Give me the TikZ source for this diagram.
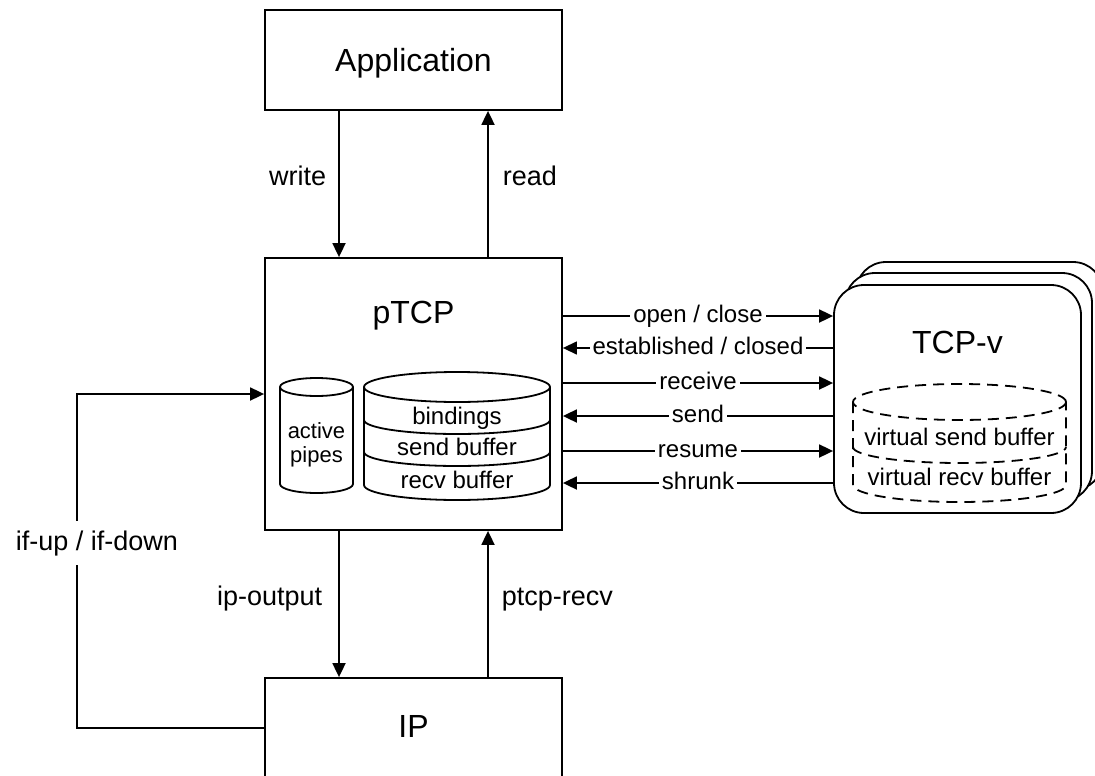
\documentclass[tikz,border=0pt]{standalone}
\usepackage{fontspec}
\setmainfont{Liberation Sans}
\usetikzlibrary{arrows.meta}

\begin{document}
\begin{tikzpicture}[x=1pt,y=1pt,line width=1.8pt,
  tip/.tip={Triangle[length=14pt,width=13pt]},
  fwd/.style={-tip},
  back/.style={tip-},
  block/.style={draw,rectangle,inner sep=0pt},
  vbox/.style={draw,fill=white,rectangle,rounded corners=30pt,inner sep=0pt,
               minimum width=247pt,minimum height=228pt},
  title/.style={inner sep=0pt,anchor=base,font=\fontsize{32}{38}\selectfont},
  flow/.style={inner sep=0pt,font=\fontsize{27}{32}\selectfont},
  msg/.style={fill=white,inner xsep=3pt,inner ysep=1pt,anchor=base,yshift=-6.5pt,
              font=\fontsize{24}{29}\selectfont},
  store/.style={inner sep=0pt,anchor=base,font=\fontsize{24}{29}\selectfont},
  pipes/.style={inner sep=0pt,anchor=base,font=\fontsize{22}{26}\selectfont},
  vdash/.style={dash pattern=on 11pt off 7pt}]

\useasboundingbox (0,0) rectangle (1095,-776);

% layers
\node[block,minimum width=297pt,minimum height=100pt] (app)  at (413.5,-60)  {};
\node[block,minimum width=297pt,minimum height=272pt] (ptcp) at (413.5,-394) {};
\node[block,minimum width=297pt,minimum height=122pt] (ip)   at (413.5,-739) {};

\node[title] (appname)  at (413.5,-72)  {Application};
\node[title] (ptcpname) at (413.5,-323) {pTCP};
\node[title] (ipname)   at (413.5,-737) {IP};

% stack of virtual TCP instances
\node[vbox] (tcpv3) at (979.5,-376) {};
\node[vbox] (tcpv2) at (968.5,-387) {};
\node[vbox] (tcpv)  at (957.5,-399) {};
\node[title] (tcpvname) at (957.5,-353) {TCP-v};

% application <-> pTCP
\draw[fwd]  (app.south -| 339,0) -- (ptcp.north -| 339,0);
\draw[back] (app.south -| 488,0) -- (ptcp.north -| 488,0);
\node[flow,anchor=base east] (wlbl) at (327,-185) {write};
\node[flow,anchor=base west] (rlbl) at (502,-185) {read};

% pTCP <-> IP
\draw[fwd]  (ptcp.south -| 339,0) -- (ip.north -| 339,0);
\draw[back] (ptcp.south -| 488,0) -- (ip.north -| 488,0);
\node[flow,anchor=base east] (olbl) at (323,-605) {ip-output};
\node[flow,anchor=base west] (ilbl) at (501,-605) {ptcp-recv};

% interface events
\coordinate (ifb) at (77,-728);
\coordinate (ift) at (77,-394);
\draw[fwd] (ip.west |- ifb) -- (ifb) -- (ift) -- (ptcp.west |- ift);
\node[flow,fill=white,anchor=base,inner xsep=2pt,inner ysep=9pt] (iflbl) at (97,-550) {if-up / if-down};

% pTCP <-> TCP-v
\draw[fwd]  (ptcp.east |- 0,-316) -- node[msg] (m1) {open / close} (tcpv.west |- 0,-316);
\draw[back,line width=1.4pt] (ptcp.east |- 0,-348) -- node[msg] (m2) {established / closed} (tcpv.west |- 0,-348);
\draw[fwd]  (ptcp.east |- 0,-383) -- node[msg] (m3) {receive} (tcpv.west |- 0,-383);
\draw[back] (ptcp.east |- 0,-416) -- node[msg] (m4) {send} (tcpv.west |- 0,-416);
\draw[fwd]  (ptcp.east |- 0,-451) -- node[msg] (m5) {resume} (tcpv.west |- 0,-451);
\draw[back] (ptcp.east |- 0,-483) -- node[msg] (m6) {shrunk} (tcpv.west |- 0,-483);

% active pipes store
\draw (280,-387) -- (280,-484) arc[start angle=180,end angle=360,x radius=36.5,y radius=9] -- (353,-387);
\draw (316.5,-387) ellipse [x radius=36.5,y radius=9];
\node[pipes] (ap1) at (316.5,-438) {active};
\node[pipes] (ap2) at (316.5,-462) {pipes};

% bindings and buffers store
\draw (364,-387) -- (364,-485) arc[start angle=180,end angle=360,x radius=93,y radius=15] -- (550,-387);
\draw (457,-387) ellipse [x radius=93,y radius=15];
\draw (364,-420) arc[start angle=180,end angle=360,x radius=93,y radius=14];
\draw (364,-452) arc[start angle=180,end angle=360,x radius=93,y radius=14];
\node[store] (b1) at (457,-424) {bindings};
\node[store] (b2) at (457,-455) {send buffer};
\node[store] (b3) at (457,-488) {recv buffer};

% virtual buffers
\draw[vdash] (853,-402) -- (853,-485) arc[start angle=180,end angle=360,x radius=106.5,y radius=17] -- (1066,-402);
\draw[vdash] (959.5,-402) ellipse [x radius=106.5,y radius=18];
\draw[vdash] (853,-447) arc[start angle=180,end angle=360,x radius=106.5,y radius=16];
\node[store] (vb1) at (959.5,-445) {virtual send buffer};
\node[store] (vb2) at (959.5,-485) {virtual recv buffer};
\end{tikzpicture}
\end{document}
